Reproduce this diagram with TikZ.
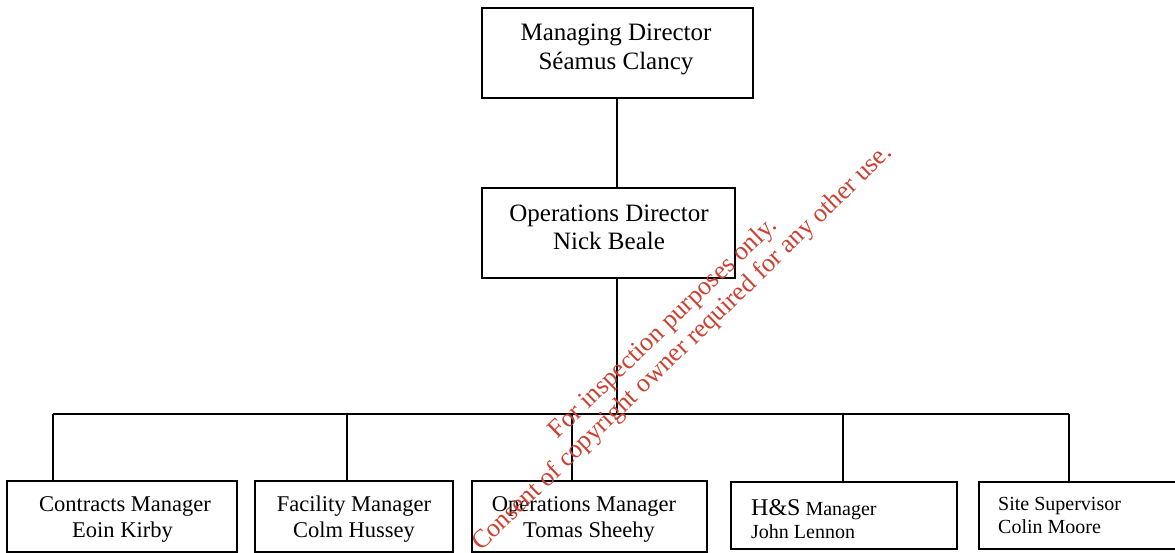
\documentclass[tikz,border=0pt]{standalone}
\usepackage{fontspec}
\setmainfont{Liberation Serif}
\definecolor{wmred}{RGB}{205,65,50}
\begin{document}
\begin{tikzpicture}[x=1pt,y=-1pt,
  box/.style={draw, line width=1.6pt, inner sep=0pt, rectangle},
  conn/.style={line width=1.6pt},
  big/.style={font=\fontsize{25}{28}\selectfont, inner sep=0pt, anchor=base},
  mid/.style={font=\fontsize{22.5}{26}\selectfont, inner sep=0pt, anchor=base},
  small/.style={font=\fontsize{20}{24}\selectfont, inner sep=0pt, anchor=base west},
  wm/.style={font=\fontsize{26}{30}\selectfont, text=wmred, rotate=44, anchor=base, inner sep=0pt}]
\useasboundingbox (0,0) rectangle (1175,553);
\fill[white] (0,0) rectangle (1175,553);

% boxes
\node[box, minimum width=271pt, minimum height=90pt] (md) at (617.5,53) {};
\node[box, minimum width=253pt, minimum height=90pt] (od) at (608.5,233) {};
\node[box, minimum width=230pt, minimum height=71pt] (cm) at (122,516.5) {};
\node[box, minimum width=198pt, minimum height=71pt] (fm) at (354,516.5) {};
\node[box, minimum width=235pt, minimum height=71pt] (om) at (589.5,516.5) {};
\node[box, minimum width=226pt, minimum height=67pt] (hs) at (844,515.5) {};
\node[box, minimum width=210pt, minimum height=67pt] (ss) at (1084,515.5) {};

% texts
\node[big] (mdA) at (616,40.7) {Managing Director};
\node[big] (mdB) at (616,69.2) {Séamus Clancy};
\node[big] (odA) at (609,221.7) {Operations Director};
\node[big] (odB) at (609,250) {Nick Beale};
\node[mid] (cmA) at (125,511) {Contracts Manager};
\node[mid] (cmB) at (122.5,537) {Eoin Kirby};
\node[mid] (fmA) at (354,511) {Facility Manager};
\node[mid] (fmB) at (354,537) {Colm Hussey};
\node[mid] (omA) at (584,511) {Operations Manager};
\node[mid] (omB) at (589,537) {Tomas Sheehy};
\node[small] (hsA) at (751,515) {{\fontsize{24}{28}\selectfont H\&S} Manager};
\node[small] (hsB) at (751,538) {John Lennon};
\node[small] (ssA) at (998,510) {Site Supervisor};
\node[small] (ssB) at (998,533) {Colin Moore};

% connectors
\coordinate (trunk) at (617,414);
\coordinate (busL) at (53,414);
\coordinate (busR) at (1069,414);
\coordinate (j2) at (347,414);
\coordinate (j3) at (572,414);
\coordinate (j4) at (843,414);
\draw[conn] (md.south -| trunk) -- (od.north -| trunk);
\draw[conn] (od.south -| trunk) -- (trunk);
\draw[conn] (busL) -- (busR);
\draw[conn] (busL) -- (busL |- cm.north);
\draw[conn] (j2) -- (j2 |- fm.north);
\draw[conn] (j3) -- (j3 |- om.north);
\draw[conn] (j4) -- (j4 |- hs.north);
\draw[conn] (busR) -- (busR |- ss.north);

% watermark
\node[wm] (wm1) at (668,333) {For inspection purposes only.};
\node[wm] (wm2) at (687,353) {Consent of copyright owner required for any other use.};
\end{tikzpicture}
\end{document}
